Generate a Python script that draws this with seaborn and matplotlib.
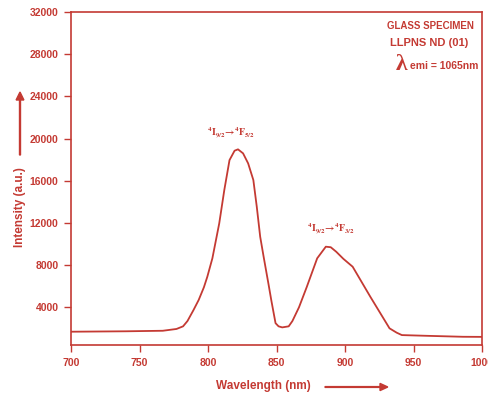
import matplotlib
matplotlib.use("Agg")
import matplotlib.pyplot as plt
import seaborn as sns
import pandas as pd

wavelength = [700, 740, 767, 777, 781.8, 785, 789.4, 793.2, 797, 799.5, 803.2, 808.2, 811.9, 815.7, 819.4,
              821.9, 825.6, 829.3, 833.1, 835.6, 838.1, 840.6, 844.3, 846.3, 849.3, 851.5, 854.2, 858.9,
              861.6, 866.4, 872, 879.7, 886, 889.6, 893.6, 898.8, 905.6, 918.5, 932.5, 937.7, 941.5,
              960, 986, 1000]
intensity = [1690, 1730, 1780, 1950, 2200, 2700, 3740, 4700, 5900, 6900, 8650, 11960, 15120, 17960, 18850,
             18980, 18600, 17650, 16070, 13540, 10690, 8800, 6100, 4600, 2500, 2200, 2100, 2200,
             2700, 4000, 5900, 8650, 9750, 9700, 9270, 8600, 7850, 5000, 2010, 1600, 1370,
             1300, 1210, 1200]
x_ticks = [700, 750, 800, 850, 900, 950, 1000]
y_ticks = [4000, 8000, 12000, 16000, 20000, 24000, 28000, 32000]

RED = "#c43a33"
df = pd.DataFrame({"Wavelength": wavelength, "Intensity": intensity})

sns.set_theme(style="white")
plt.rcParams['font.family'] = ['Liberation Sans', 'DejaVu Sans']

fig = plt.figure(figsize=(4.88, 3.99), dpi=100)
ax = fig.add_axes([71/488, 54/399, 411/488, 333/399])
sns.lineplot(data=df, x="Wavelength", y="Intensity", ax=ax, color=RED, linewidth=1.3,
             solid_joinstyle='round')

ax.set_xlim(700, 1000)
ax.set_ylim(430, 32000)
ax.set_xticks(x_ticks)
ax.set_yticks(y_ticks)
ax.set_xticklabels([str(t) for t in x_ticks], fontsize=7.5, fontweight='bold', color=RED)
ax.set_yticklabels([str(t) for t in y_ticks], fontsize=7.5, fontweight='bold', color=RED)
ax.tick_params(axis='both', direction='out', length=5, width=1, color=RED, pad=4, bottom=True, left=True)
for s in ax.spines.values():
    s.set_color(RED)
    s.set_linewidth(1.2)
ax.set_xlabel("")
ax.set_ylabel("")

# Axis titles with arrows
fig.text(263/488, 1 - 386/399, "Wavelength (nm)", ha='center', va='center', fontsize=8.5,
         fontweight='bold', color=RED)
fig.text(20/488, 1 - 207/399, "Intensity (a.u.)", ha='center', va='center', rotation=90,
         fontsize=8.5, fontweight='bold', color=RED)
fig.patches.append(matplotlib.patches.FancyArrow(325/488, 1 - 387/399, 55/488, 0,
                   width=0.002, head_width=0.018, head_length=0.016, color=RED,
                   transform=fig.transFigure, length_includes_head=False))
fig.patches.append(matplotlib.patches.FancyArrow(20/488, 1 - 155/399, 0, 55/399,
                   width=0.002, head_width=0.016, head_length=0.02, color=RED,
                   transform=fig.transFigure, length_includes_head=False))

# Peak annotations
fig.text(231/488, 1 - 133/399, r'$\mathbf{^{4}I_{9/2}\!\rightarrow\!^{4}F_{5/2}}$', ha='center',
         va='center', fontsize=7, color=RED, math_fontfamily='stix')
fig.text(331/488, 1 - 229/399, r'$\mathbf{^{4}I_{9/2}\!\rightarrow\!^{4}F_{3/2}}$', ha='center',
         va='center', fontsize=7, color=RED, math_fontfamily='stix')

# Specimen text
fig.text(430/488, 1 - 26/399, "GLASS SPECIMEN", ha='center', va='center', fontsize=7,
         fontweight='bold', color=RED)
fig.text(429/488, 1 - 43/399, "LLPNS ND (01)", ha='center', va='center', fontsize=8,
         fontweight='bold', color=RED)
fig.text(396/488, 1 - 64/399, "λ", ha='left', va='center', fontsize=17, fontweight='bold',
         color=RED, family=['Liberation Serif', 'DejaVu Serif'])
fig.text(410/488, 1 - 66/399, "emi = 1065nm", ha='left', va='center', fontsize=7.5,
         fontweight='bold', color=RED)

fig.savefig("out.png", dpi=100)
